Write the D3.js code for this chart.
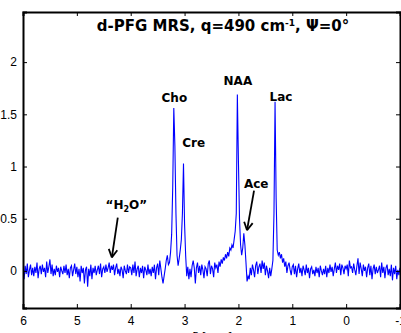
<!DOCTYPE html>
<html>
<head>
<meta charset="utf-8">
<script src="https://cdn.jsdelivr.net/npm/d3@7"></script>
<style>
  body { margin: 0; background: #fff; }
  svg { display: block; }
</style>
</head>
<body>
<svg id="chart" width="401" height="333"></svg>
<script>
const intensity = [
  0.02, -0.08, 0.05, -0.03, 0.07, -0.06, 0.01, 0.06, -0.04, 0.03,   // 6.00
  -0.05, 0.04, -0.02, 0.08, -0.07, 0.02, 0.05, -0.03, 0.06, -0.01,  // 5.80
  0.03, -0.06, 0.09, -0.02, 0.04, 0.11, -0.03, 0.06, -0.05, 0.02,   // 5.60
  -0.04, 0.05, -0.01, 0.03, -0.06, 0.04, 0.00, -0.03, 0.05, -0.02,  // 5.40
  0.06, -0.04, 0.02, -0.07, 0.03, 0.05, -0.05, 0.01, 0.07, -0.03,   // 5.20
  0.04, -0.06, 0.02, -0.10, 0.05, -0.02, 0.03, -0.12, 0.01, 0.04,   // 5.00
  -0.15, 0.02, -0.05, 0.06, -0.08, 0.03, -0.02, 0.05, -0.04, 0.01,  // 4.80
  0.05, -0.03, 0.07, -0.06, 0.02, 0.04, -0.02, 0.06, -0.01, 0.03,   // 4.60
  0.08, -0.02, 0.05, 0.01, 0.06, -0.04, 0.03, 0.07, -0.03, 0.02,    // 4.40
  -0.05, 0.04, 0.01, -0.07, 0.05, 0.00, -0.03, 0.06, -0.02, 0.04,   // 4.20
  0.03, -0.04, 0.06, -0.02, 0.09, -0.05, 0.02, 0.05, -0.06, 0.03,   // 4.00
  -0.02, 0.05, -0.07, 0.04, 0.01, -0.04, 0.06, -0.03, 0.02, -0.05,  // 3.80
  0.04, -0.02, 0.06, -0.08, 0.03, 0.07, -0.04, 0.10, 0.02, -0.06,   // 3.60
  -0.12, -0.05, 0.02, 0.10, 0.15, 0.06, 0.08, 0.18, 0.35, 0.80,     // 3.40
  1.56, 1.20, 0.55, 0.15, 0.05, 0.12, 0.20, 0.30, 0.55, 1.03,       // 3.20
  0.45, 0.15, -0.05, 0.04, -0.08, 0.02, -0.06, 0.05, 0.10, 0.03,    // 3.00
  -0.12, 0.03, 0.08, -0.02, 0.05, -0.04, 0.06, 0.01, -0.07, 0.04,   // 2.80
  0.02, -0.05, 0.07, 0.10, -0.03, 0.05, 0.02, -0.06, 0.08, 0.03,    // 2.60
  0.06, -0.02, 0.09, 0.04, 0.11, 0.07, 0.13, 0.10, 0.16, 0.12,      // 2.40
  0.18, 0.14, 0.22, 0.20, 0.25, 0.22, 0.30, 0.38, 0.55, 1.69,       // 2.20
  1.05, 0.50, 0.25, 0.15, 0.22, 0.36, 0.25, 0.08, -0.10, -0.05,     // 2.00
  -0.08, 0.03, -0.04, 0.06, 0.01, -0.06, 0.05, 0.09, -0.03, 0.04,   // 1.80
  0.07, -0.02, 0.10, 0.02, 0.08, -0.04, 0.05, 0.00, -0.07, 0.03,    // 1.60
  -0.05, 0.02, 0.10, 0.55, 1.62, 0.70, 0.20, 0.15, 0.18, 0.12,      // 1.40
  0.16, 0.08, 0.12, 0.04, 0.09, -0.02, 0.05, 0.08, 0.01, -0.04,     // 1.20
  0.04, 0.06, -0.03, 0.05, -0.06, 0.02, 0.07, -0.02, 0.03, -0.05,   // 1.00
  0.05, 0.01, -0.04, 0.06, -0.02, 0.03, -0.07, 0.02, 0.04, -0.03,   // 0.80
  0.01, -0.05, 0.04, -0.02, 0.03, -0.06, 0.05, 0.00, -0.04, 0.02,   // 0.60
  -0.03, 0.05, -0.06, 0.03, -0.02, 0.06, -0.01, 0.04, -0.05, 0.02,  // 0.40
  0.08, -0.02, 0.05, 0.01, 0.07, -0.04, 0.06, 0.03, -0.03, 0.05,    // 0.20
  0.02, 0.06, -0.05, 0.10, 0.03, 0.04, -0.02, 0.07, 0.01, -0.04,    // 0.00
  0.05, 0.12, -0.03, 0.08, 0.02, -0.05, 0.06, 0.00, 0.04, -0.06,    // -0.20
  0.03, 0.07, -0.04, 0.05, -0.08, 0.02, 0.06, -0.03, 0.04, -0.02,   // -0.40
  0.01, 0.05, -0.06, 0.08, -0.02, 0.04, -0.07, 0.03, 0.06, -0.04,   // -0.60
  0.02, -0.05, 0.06, -0.09, 0.03, -0.03, 0.05, -0.08, 0.01, -0.04,  // -0.80
  0.03                                                              // -1.00
];
const ppmStart = 6, ppmStep = 0.02;

const xTicks = [6, 5, 4, 3, 2, 1, 0, -1];
const yTicks = [0, 0.5, 1, 1.5, 2];

const peakLabels = [
  { name: "Cho", ppm: 3.19, y: 1.62 },
  { name: "Cre", ppm: 2.83, y: 1.19 },
  { name: "NAA", ppm: 2.01, y: 1.78 },
  { name: "Lac", ppm: 1.21, y: 1.63 },
  { name: "Ace", ppm: 1.67, y: 0.79 }
];

const svg = d3.select("#chart");
const margin = { left: 23, right: 1, top: 12, bottom: 25 };
const W = 401, H = 333;

const x = d3.scaleLinear().domain([6, -1]).range([margin.left, W - margin.right]);
const y = d3.scaleLinear().domain([-0.355, 2.48]).range([H - margin.bottom, margin.top]);

const data = intensity.map((v, i) => ({ ppm: ppmStart - i * ppmStep, v: v }));

svg.append("clipPath").attr("id", "clip")
  .append("rect")
  .attr("x", margin.left).attr("y", margin.top)
  .attr("width", W - margin.left - margin.right)
  .attr("height", H - margin.top - margin.bottom);

const line = d3.line().x(d => x(d.ppm)).y(d => y(d.v));

svg.append("path")
  .datum(data)
  .attr("clip-path", "url(#clip)")
  .attr("fill", "none")
  .attr("stroke", "#0000ff")
  .attr("stroke-width", 1.1)
  .attr("d", line);

// axes (matlab style, ticks inward on all sides)
const tickFont = "'Liberation Sans', Arial, sans-serif";
const axBottom = svg.append("g").attr("transform", `translate(0,${H - margin.bottom})`)
  .call(d3.axisBottom(x).tickValues(xTicks).tickSize(-4).tickPadding(8).tickFormat(d => String(d)));
const axTop = svg.append("g").attr("transform", `translate(0,${margin.top})`)
  .call(d3.axisTop(x).tickValues(xTicks).tickSize(-4).tickFormat(""));
const axLeft = svg.append("g").attr("transform", `translate(${margin.left},0)`)
  .call(d3.axisLeft(y).tickValues(yTicks).tickSize(-4).tickPadding(6).tickFormat(d => String(d)));
const axRight = svg.append("g").attr("transform", `translate(${W - margin.right},0)`)
  .call(d3.axisRight(y).tickValues(yTicks).tickSize(-4).tickFormat(""));

[axBottom, axTop, axLeft, axRight].forEach(g => {
  g.select(".domain").attr("stroke", "#000").attr("stroke-width", 2);
  g.selectAll(".tick line").attr("stroke", "#000").attr("stroke-width", 1);
  g.selectAll("text").attr("font-family", tickFont).attr("font-size", 12).attr("fill", "#000");
});

// x label (mostly cut off at the bottom edge)
svg.append("text")
  .attr("x", 212).attr("y", 341)
  .attr("text-anchor", "middle")
  .attr("font-family", tickFont).attr("font-size", 12)
  .text("δ [ppm]");

const boldFont = "'DejaVu Sans', Verdana, sans-serif";

// title
const title = svg.append("text")
  .attr("x", 223).attr("y", 31)
  .attr("text-anchor", "middle")
  .attr("font-family", boldFont).attr("font-weight", "bold").attr("font-size", 15);
title.append("tspan").text("d-PFG MRS, q=490 cm");
title.append("tspan").attr("dy", -5).attr("font-size", 9).text("-1");
title.append("tspan").attr("dy", 5).text(", Ψ=0°");

// peak labels
svg.selectAll(".peak")
  .data(peakLabels)
  .join("text")
  .attr("class", "peak")
  .attr("x", d => x(d.ppm))
  .attr("y", d => y(d.y))
  .attr("text-anchor", "middle")
  .attr("font-family", boldFont).attr("font-weight", "bold").attr("font-size", 12)
  .text(d => d.name);

const water = svg.append("text")
  .attr("x", x(4.08)).attr("y", y(0.59))
  .attr("text-anchor", "middle")
  .attr("font-family", boldFont).attr("font-weight", "bold").attr("font-size", 12);
water.append("tspan").text("“H");
water.append("tspan").attr("dy", 3).attr("font-size", 8).text("2");
water.append("tspan").attr("dy", -3).text("O”");

// arrows
const arrows = [
  { from: [4.24, 0.51], to: [4.35, 0.13] },
  { from: [1.71, 0.77], to: [1.84, 0.39] }
];
arrows.forEach(a => {
  const x1 = x(a.from[0]), y1 = y(a.from[1]), x2 = x(a.to[0]), y2 = y(a.to[1]);
  svg.append("line")
    .attr("x1", x1).attr("y1", y1).attr("x2", x2).attr("y2", y2)
    .attr("stroke", "#000").attr("stroke-width", 1.8);
  const ang = Math.atan2(y2 - y1, x2 - x1);
  const len = 9, spread = 0.5;
  [ang + Math.PI - spread, ang + Math.PI + spread].forEach(t => {
    svg.append("line")
      .attr("x1", x2).attr("y1", y2)
      .attr("x2", x2 + len * Math.cos(t)).attr("y2", y2 + len * Math.sin(t))
      .attr("stroke", "#000").attr("stroke-width", 1.8);
  });
});
</script>
</body>
</html>
